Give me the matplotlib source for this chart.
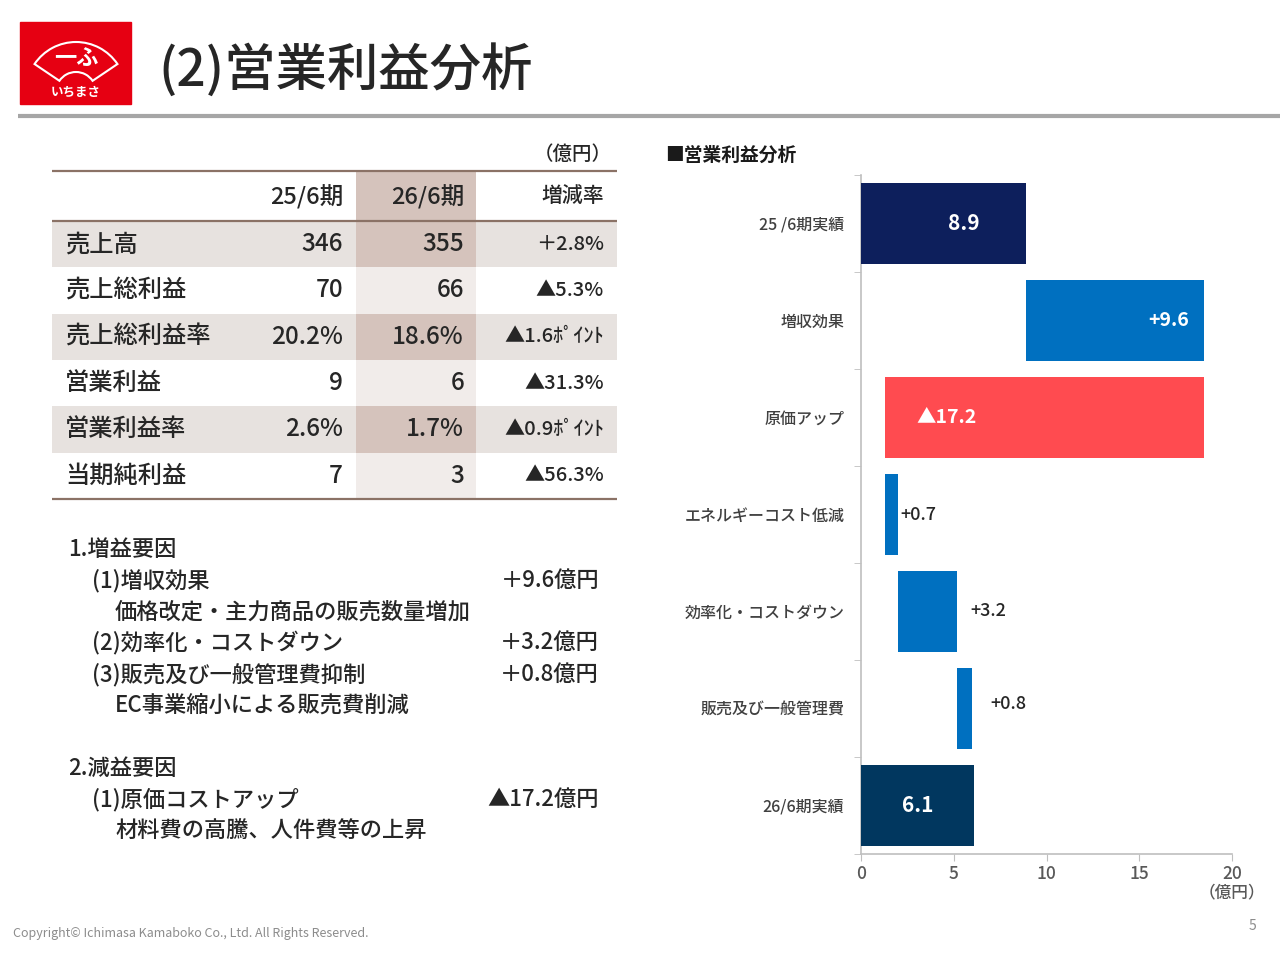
import numpy as np
import matplotlib
matplotlib.use("Agg")
import matplotlib.pyplot as plt
from matplotlib.patches import Rectangle, Wedge

plt.rcParams['font.family'] = ['Noto Sans CJK JP', 'DejaVu Sans']
plt.rcParams['font.weight'] = 'medium'

# ---------------- data ----------------
TABLE_HEAD = ['25/6期', '26/6期', '増減率']
ROW_LABELS = ['売上高', '売上総利益', '売上総利益率', '営業利益', '営業利益率', '当期純利益']
PREV_VALS = ['346', '70', '20.2%', '9', '2.6%', '7']
CURR_VALS = ['355', '66', '18.6%', '6', '1.7%', '3']
CHANGES = ['＋2.8%', '▲5.3%', '▲1.6ﾎﾟｲﾝﾄ', '▲31.3%', '▲0.9ﾎﾟｲﾝﾄ', '▲56.3%']

NOTE_LINES = [
    (0, '1.増益要因', ''),
    (1, '(1)増収効果', '＋9.6億円'),
    (2, '価格改定・主力商品の販売数量増加', ''),
    (1, '(2)効率化・コストダウン', '＋3.2億円'),
    (1, '(3)販売及び一般管理費抑制', '＋0.8億円'),
    (2, 'EC事業縮小による販売費削減', ''),
    (0, '', ''),
    (0, '2.減益要因', ''),
    (1, '(1)原価コストアップ', '▲17.2億円'),
    (2, '材料費の高騰、人件費等の上昇', ''),
]

STEPS = ['25 /6期実績', '増収効果', '原価アップ', 'エネルギーコスト低減',
         '効率化・コストダウン', '販売及び一般管理費', '26/6期実績']
STEP_VALUES = [8.9, 9.6, -17.2, 0.7, 3.2, 0.8, 6.1]
STEP_KIND = ['total', 'delta', 'delta', 'delta', 'delta', 'delta', 'total']
STEP_LABELS = ['8.9', '+9.6', '▲17.2', '+0.7', '+3.2', '+0.8', '6.1']
X_TICKS = [0, 5, 10, 15, 20]

# ---------------- figure ----------------
fig = plt.figure(figsize=(12.8, 9.6), dpi=100)
bg = fig.add_axes([0, 0, 1, 1])
bg.set_xlim(0, 1280)
bg.set_ylim(960, 0)
bg.axis('off')

# logo
bg.add_patch(Rectangle((20, 22), 111, 82, color='#e60012'))
bg.add_patch(Wedge((76, 92), 50, -146, -34, width=30, fill=False,
                   edgecolor='white', lw=1.5))
bg.text(76, 58, '一ふ', color='white', fontsize=16, fontweight='bold',
        ha='center', va='center')
bg.text(76, 92, 'いちまさ', color='white', fontsize=9, fontweight='bold',
        ha='center', va='center')

# title + header rule
bg.text(158, 70, '(2)営業利益分析', fontsize=37, color='#262626',
        ha='left', va='center')
bg.plot([18, 1280], [116, 116], color='#a6a6a6', lw=3, solid_capstyle='butt')

# ---------------- table ----------------
tx0, tx1 = 52, 617
col_edges = [52, 236, 356, 476, 617]
col_right = [343, 464, 604]
head_top, head_bot = 171, 221
row_h = 46.3
line_c = '#8b7266'

bg.text(612, 154, '（億円）', fontsize=14, color='#262626', ha='right', va='center')
bg.add_patch(Rectangle((col_edges[2], head_top), col_edges[3] - col_edges[2],
                       head_bot - head_top, color='#d5c3bc', lw=0))
for j, h in enumerate(TABLE_HEAD):
    bg.text(col_right[j], (head_top + head_bot) / 2 + 1, h,
            fontsize=17 if j < 2 else 15, color='#262626', ha='right', va='center')

for i, lab in enumerate(ROW_LABELS):
    y0 = head_bot + i * row_h
    yc = y0 + row_h / 2
    if i % 2 == 0:
        bg.add_patch(Rectangle((tx0, y0), tx1 - tx0, row_h, color='#e7e2df', lw=0))
        bg.add_patch(Rectangle((col_edges[2], y0), col_edges[3] - col_edges[2],
                               row_h, color='#d5c3bc', lw=0))
    else:
        bg.add_patch(Rectangle((col_edges[2], y0), col_edges[3] - col_edges[2],
                               row_h, color='#f1ecea', lw=0))
    bg.text(65, yc, lab, fontsize=17.5, color='#262626', ha='left', va='center')
    bg.text(col_right[0], yc, PREV_VALS[i], fontsize=17.5, color='#262626',
            ha='right', va='center')
    bg.text(col_right[1], yc, CURR_VALS[i], fontsize=17.5, color='#262626',
            ha='right', va='center')
    bg.text(col_right[2], yc, CHANGES[i], fontsize=14.5, color='#262626',
            ha='right', va='center')

tab_bot = head_bot + len(ROW_LABELS) * row_h
for yy in (head_top, head_bot, tab_bot):
    bg.plot([tx0, tx1], [yy, yy], color=line_c, lw=1.6, solid_capstyle='butt')

# ---------------- notes ----------------
indent = {0: 68, 1: 92, 2: 115}
ny = 549
for lvl, txt, amt in NOTE_LINES:
    if txt:
        bg.text(indent[lvl], ny, txt, fontsize=16, color='#262626',
                ha='left', va='center')
    if amt:
        bg.text(599, ny, amt, fontsize=16, color='#262626',
                ha='right', va='center')
    ny += 31.3

# footer
bg.text(13, 933, 'Copyright© Ichimasa Kamaboko Co., Ltd. All Rights Reserved.',
        fontsize=9, color='#8c8c8c', ha='left', va='center', fontweight='normal')
bg.text(1256, 926, '5', fontsize=10, color='#8c8c8c', ha='right', va='center',
        fontweight='normal')

# chart title
bg.text(665, 155, '■営業利益分析', fontsize=13.5, color='#1a1a1a',
        ha='left', va='center', fontweight='bold')
bg.text(1232, 892, '（億円）', fontsize=12, color='#595959', ha='center', va='center')

# ---------------- waterfall chart ----------------
ax = fig.add_axes([861 / 1280, 1 - 854 / 960, (1232 - 861) / 1280, (854 - 175) / 960])
ax.set_facecolor('none')

pos = np.arange(len(STEPS))
lefts, widths = [], []
running = 0.0
for v, k in zip(STEP_VALUES, STEP_KIND):
    if k == 'total':
        lefts.append(0.0)
        widths.append(v)
        running = v
    else:
        new = running + v
        lefts.append(min(running, new))
        widths.append(abs(v))
        running = new

colors = ['#0d1f5c', '#0070c0', '#ff4b50', '#0070c0', '#0070c0', '#0070c0', '#01375f']
ax.barh(pos, widths, left=lefts, height=0.83, color=colors, zorder=3)

# value labels
for i, lab in enumerate(STEP_LABELS):
    l, w = lefts[i], widths[i]
    if i == 0:
        ax.text(l + w * 0.62, i, lab, color='white', fontsize=15, fontweight='bold',
                ha='center', va='center', zorder=4)
    elif i == 1:
        ax.text(l + w - 0.8, i, lab, color='white', fontsize=14, fontweight='bold',
                ha='right', va='center', zorder=4)
    elif i == 2:
        ax.text(l + 1.7, i, lab, color='white', fontsize=14, fontweight='bold',
                ha='left', va='center', zorder=4)
    elif i == 3:
        ax.text(l + w + 0.1, i, lab, color='#262626', fontsize=13,
                ha='left', va='center', zorder=4)
    elif i == 4:
        ax.text(l + w + 0.7, i, lab, color='#262626', fontsize=13,
                ha='left', va='center', zorder=4)
    elif i == 5:
        ax.text(l + w + 1.0, i - 0.05, lab, color='#262626', fontsize=13,
                ha='left', va='center', zorder=4)
    else:
        ax.text(l + w / 2, i, lab, color='white', fontsize=15, fontweight='bold',
                ha='center', va='center', zorder=4)

ax.set_xlim(0, 20)
ax.set_ylim(len(STEPS) - 0.5, -0.5)
ax.set_xticks(X_TICKS)
ax.set_xticklabels([str(t) for t in X_TICKS])
ax.set_yticks(pos)
ax.set_yticklabels(STEPS)
ax.set_yticks(np.arange(len(STEPS) + 1) - 0.5, minor=True)
ax.tick_params(axis='y', which='major', length=0, pad=12, labelsize=11.5,
               labelcolor='#404040')
ax.tick_params(axis='y', which='minor', length=5, color='#bfbfbf', direction='out')
ax.tick_params(axis='x', length=5, color='#bfbfbf', labelsize=12.5,
               labelcolor='#595959', pad=3)
for s in ('top', 'right'):
    ax.spines[s].set_visible(False)
for s in ('left', 'bottom'):
    ax.spines[s].set_color('#bfbfbf')
    ax.spines[s].set_linewidth(1.2)

fig.savefig('out.png', dpi=100)
